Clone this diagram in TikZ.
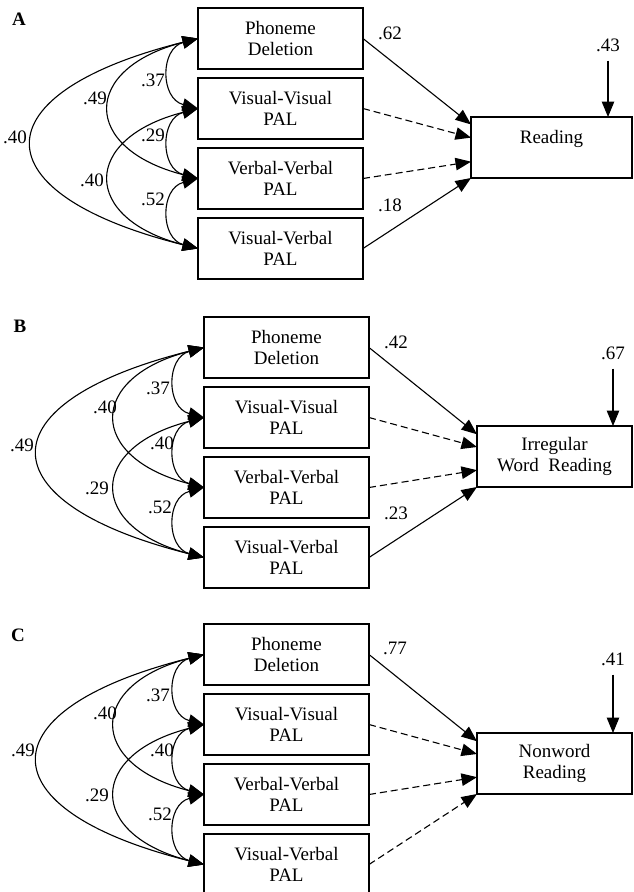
\documentclass[tikz,border=0pt]{standalone}
\usepackage{fontspec}
\setmainfont{Liberation Serif}
\usetikzlibrary{arrows.meta,positioning}

\begin{document}
\begin{tikzpicture}[
		x=1pt, y=-1pt,
		font=\fontsize{19}{21}\selectfont,
		node distance=9pt,
		box/.style     = {draw, line width=1.3pt, outer sep=0pt, inner sep=0pt, minimum width=165pt, minimum height=61pt, align=center},
		outcome/.style = {box, minimum width=161pt},
		tag/.style     = {font=\fontsize{19}{21}\selectfont\bfseries},
		coef/.style    = {inner sep=1pt},
		cov/.style     = {<->, line width=1.1pt},
		direct/.style  = {->, line width=1.1pt},
		weak/.style    = {direct, dash pattern=on 7pt off 4pt},
		>={Triangle[length=15.5pt,width=12.5pt]}]
		
		\useasboundingbox (0,0) rectangle (633,892);
		
		% panel A, the four predictors and the outcome
		\node[tag] (ta) at (19,19) {A};
		\node[box] (a1) at (280.5,38.5) {Phoneme\\Deletion};
		\node[box, below=of a1] (a2) {Visual-Visual\\PAL};
		\node[box, below=of a2] (a3) {Verbal-Verbal\\PAL};
		\node[box, below=of a3] (a4) {Visual-Verbal\\PAL};
		\node[outcome] (ar) at (551.5,147.5) {Reading\\\mbox{}};
		\node[coef] (ae) at (608,45) {.43};
		\draw[direct, shorten <=8pt] (ae) -- (ae |- ar.north);
		
		% correlations between the predictors
		\foreach \i/\j/\d/\v in {1/2/38/10, 2/3/38/10, 3/4/38/10, 1/3/117/30, 2/4/117/30, 1/4/220/55}
		\draw[cov] (a\i.west) .. controls ([shift={(-\d,\v)}]a\i.west) and ([shift={(-\d,-\v)}]a\j.west) .. (a\j.west);
		\node[coef] (a40o) at (15,137) {.40};
		\node[coef] (a49) at (95,98) {.49};
		\node[coef] (a37) at (153,80) {.37};
		\node[coef] (a29) at (153,135) {.29};
		\node[coef] (a40i) at (92,180) {.40};
		\node[coef] (a52) at (153,199) {.52};
		
		% paths to the outcome
		\draw[direct] (a1.east) -- (ar.164);
		\draw[weak] (a2.east) -- (ar.173);
		\draw[weak] (a3.east) -- (ar.190);
		\draw[direct] (a4.east) -- (ar.south west);
		\node[coef] (a62) at (390,33) {.62};
		\node[coef] (a18) at (390,205) {.18};
		
		% panel B
		\begin{scope}[shift={(6,309)}]
		\node[tag] (tb) at (14,17) {B};
		\node[box] (b1) at (280.5,38.5) {Phoneme\\Deletion};
		\node[box, below=of b1] (b2) {Visual-Visual\\PAL};
		\node[box, below=of b2] (b3) {Verbal-Verbal\\PAL};
		\node[box, below=of b3] (b4) {Visual-Verbal\\PAL};
		\node[outcome, minimum width=155pt] (br) at (548.5,147.5) {Irregular\\Word~ Reading};
		\node[coef] (be) at (607,44) {.67};
		\draw[direct, shorten <=8pt] (be) -- (be |- br.north);
		
		\foreach \i/\j/\d/\v in {1/2/38/10, 2/3/38/10, 3/4/38/10, 1/3/117/30, 2/4/117/30, 1/4/220/55}
		\draw[cov] (b\i.west) .. controls ([shift={(-\d,\v)}]b\i.west) and ([shift={(-\d,-\v)}]b\j.west) .. (b\j.west);
		\node[coef] (b49) at (16,136) {.49};
		\node[coef] (b40o) at (99,98) {.40};
		\node[coef] (b37) at (152,79) {.37};
		\node[coef] (b40i) at (156,134) {.40};
		\node[coef] (b29) at (91,179) {.29};
		\node[coef] (b52) at (154,198) {.52};
		
		\draw[direct] (b1.east) -- (br.164);
		\draw[weak] (b2.east) -- (br.173);
		\draw[weak] (b3.east) -- (br.190);
		\draw[direct] (b4.east) -- (br.south west);
		\node[coef] (b42) at (390,33) {.42};
		\node[coef] (b23) at (390,204) {.23};
		\end{scope}
		
		% panel C
		\begin{scope}[shift={(6,616)}]
		\node[tag] (tc) at (12,19) {C};
		\node[box] (c1) at (280.5,38.5) {Phoneme\\Deletion};
		\node[box, below=of c1] (c2) {Visual-Visual\\PAL};
		\node[box, below=of c2] (c3) {Verbal-Verbal\\PAL};
		\node[box, below=of c3] (c4) {Visual-Verbal\\PAL};
		\node[outcome, minimum width=155pt] (cr) at (548.5,147.5) {Nonword\\Reading};
		\node[coef] (ce) at (607,43) {.41};
		\draw[direct, shorten <=8pt] (ce) -- (ce |- cr.north);
		
		\foreach \i/\j/\d/\v in {1/2/38/10, 2/3/38/10, 3/4/38/10, 1/3/117/30, 2/4/117/30, 1/4/220/55}
		\draw[cov] (c\i.west) .. controls ([shift={(-\d,\v)}]c\i.west) and ([shift={(-\d,-\v)}]c\j.west) .. (c\j.west);
		\node[coef] (c49) at (17,134) {.49};
		\node[coef] (c40o) at (99,97) {.40};
		\node[coef] (c37) at (152,79) {.37};
		\node[coef] (c40i) at (156,134) {.40};
		\node[coef] (c29) at (91,179) {.29};
		\node[coef] (c52) at (154,198) {.52};
		
		\draw[direct] (c1.east) -- (cr.164);
		\draw[weak] (c2.east) -- (cr.173);
		\draw[weak] (c3.east) -- (cr.190);
		\draw[weak] (c4.east) -- (cr.south west);
		\node[coef] (c77) at (389,32) {.77};
		\end{scope}
		
	\end{tikzpicture}
\end{document}
